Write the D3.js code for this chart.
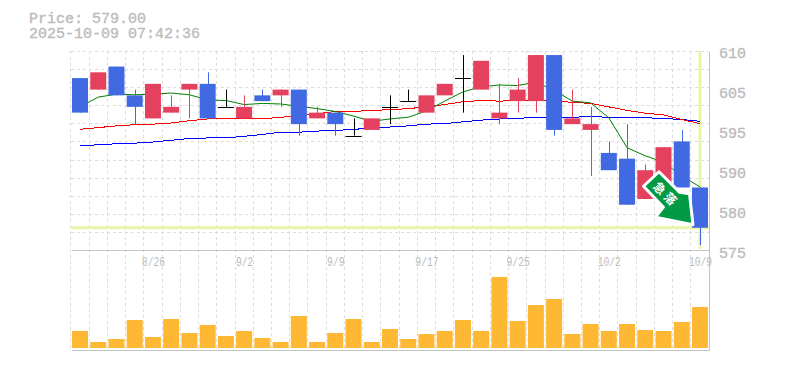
<!DOCTYPE html>
<html lang="en">
<head>
<meta charset="utf-8" />
<title>Price chart</title>
<script src="https://cdn.jsdelivr.net/npm/d3@7"></script>
<style>
  html, body { margin: 0; padding: 0; background: #fff; overflow: hidden; }
  svg { display: block; }
  text { font-family: "Liberation Mono", monospace; fill: #bbb; }
  .info, .price-axis text { font-size: 15px; stroke: #bbb; stroke-width: 0.35px; }
  .date-axis text { font-size: 13px; }
  .grid line { stroke: #dcdcdc; stroke-dasharray: 3 3; shape-rendering: crispEdges; }
  .frame { stroke: #c4c4c4; shape-rendering: crispEdges; }
  .ma { fill: none; }
</style>
</head>
<body>
<div id="chart"></div>
<script>
const dates = ['8/20','8/21','8/22','8/25','8/26','8/27','8/28','8/29','9/1','9/2','9/3','9/4','9/5','9/8','9/9','9/10','9/11','9/12','9/16','9/17','9/18','9/19','9/22','9/24','9/25','9/26','9/29','9/30','10/1','10/2','10/3','10/6','10/7','10/8','10/9'];
const opens  = [605,603,607,602,598,599,603,604,600,598,602,602,603,598,599,595,596,600,601,599,602,605,603,598,601,601,609,597,596,592,591,584,584,594,586];
const closes = [599,606,602,600,604,600,604,598,600,600,601,603,597,599,597,595,598,600,601,602,604,605,608,599,603,609,596,598,597,589,583,589,593,586,579];
const highs  = [605,606,607,603,604,602,604,606,603,602,603,603,603,600,599,598,598,602,603,602,604,609,608,604,605,609,609,603,600,594,597,590,593,596,586];
const lows   = [599,603,602,597,598,599,598,598,600,598,601,600,595,598,595,595,596,597,601,599,602,599,603,597,599,599,595,597,588,589,583,584,584,586,576];
const volume = [17,6,9,28,11,29,15,23,12,17,10,6,32,6,15,29,6,19,9,14,17,28,17,71,27,43,49,14,24,17,24,18,17,26,41];
const maShort = [600.0,601.7,602.2,602.1,602.2,602.4,602.1,601.2,601.1,600.4,600.6,600.5,600.1,599.7,599.2,598.4,597.5,597.9,598.2,599.3,601.0,602.6,603.5,603.8,603.7,604.3,602.9,601.0,600.7,598.1,592.9,591.5,590.4,588.0,586.1];
const maMid   = [596.1,596.4,596.7,596.9,597.0,597.2,597.6,597.9,597.9,597.9,597.9,598.2,598.4,598.8,599.2,599.2,599.4,599.5,599.7,600.0,600.4,600.9,601.1,601.0,601.1,601.1,601.0,600.8,600.6,600.0,599.4,598.9,598.6,597.8,597.1];
const maLong  = [593.3,593.4,593.6,593.7,593.9,594.2,594.5,594.6,594.6,594.9,595.2,595.6,595.6,595.8,595.9,596.1,596.3,596.5,596.7,597.0,597.1,597.4,597.7,597.9,598.0,598.2,598.2,598.2,598.3,598.2,598.2,598.1,598.0,597.8,597.5];
const priceLabels = ['610','605','595','590','580','575'];
const lastPrice = 579;
const infoLines = ['Price: 579.00', '2025-10-09 07:42:36'];
const dateTicks = dates.filter((d, i) => i % 5 === 4);

const UP = '#e4415f', DOWN = '#4169e1', FLAT = '#000', VOL = '#ffb833', MARK = '#e6f5a8';
const left = 70.9, right = 709.1, plotTop = 51, mid = 250, bottom = 350, volBase = 348;

const svg = d3.select('#chart').append('svg').attr('width', 785).attr('height', 370);

const x = d3.scaleBand().domain(d3.range(dates.length)).range([left, right]).paddingInner(0.1226).paddingOuter(0.0613);
const cx = i => x(i) + x.bandwidth() / 2;
const y = d3.scaleLinear().domain([575, 610]).range([250.8, 49.3]);
const yVol = d3.scaleLinear().domain([0, 100]).range([volBase, volBase - 100]);
const gridRows = d3.scaleLinear().domain([0, 11]).range([mid, plotTop]);
const px = v => Math.round(v) + 0.5;
const colorOf = i => closes[i] > opens[i] ? UP : closes[i] < opens[i] ? DOWN : FLAT;
const isFlat = i => closes[i] === opens[i];

// dashed grid
const grid = svg.append('g').attr('class', 'grid');
grid.selectAll('line.h').data(d3.range(1, 12)).join('line').attr('class', 'h')
  .attr('x1', left).attr('x2', right)
  .attr('y1', d => px(gridRows(d))).attr('y2', d => px(gridRows(d)));
grid.selectAll('line.v').data(d3.range(dates.length)).join('line').attr('class', 'v')
  .attr('x1', d => px(x(d) - 1.6)).attr('x2', d => px(x(d) - 1.6))
  .attr('y1', plotTop).attr('y2', bottom);

// panel frame
[[left, right, mid, mid], [left, right, bottom, bottom], [right, right, plotTop, bottom]].forEach(([a, b, c, d]) => {
  svg.append('line').attr('class', 'frame').attr('x1', px(a)).attr('x2', px(b)).attr('y1', px(c)).attr('y2', px(d));
});

// current price / last session markers
svg.append('line').attr('stroke', MARK).attr('stroke-width', 3)
  .attr('x1', left).attr('x2', right).attr('y1', y(lastPrice)).attr('y2', y(lastPrice));
svg.append('line').attr('stroke', MARK).attr('stroke-width', 3)
  .attr('x1', cx(34)).attr('x2', cx(34)).attr('y1', plotTop).attr('y2', mid - 1);

// moving averages sit under the candles
const line = d3.line().x((d, i) => cx(i)).y(d => y(d));
[[maLong, '#0000ff', 'crispEdges'], [maMid, '#ff0000', 'crispEdges'], [maShort, '#008000', 'auto']].forEach(([vals, col, mode]) => {
  svg.append('path').attr('class', 'ma').attr('stroke', col).attr('stroke-width', 1).attr('shape-rendering', mode).attr('d', line(vals));
});

// candles
const candles = svg.append('g').selectAll('g').data(d3.range(dates.length)).join('g');
candles.append('line')
  .attr('x1', d => px(cx(d))).attr('x2', d => px(cx(d)))
  .attr('y1', d => y(highs[d])).attr('y2', d => y(lows[d]))
  .attr('stroke', colorOf)
  .attr('stroke-width', 1);
candles.filter(d => !isFlat(d)).append('rect')
  .attr('x', d => x(d)).attr('width', x.bandwidth())
  .attr('y', d => y(Math.max(opens[d], closes[d])))
  .attr('height', d => Math.abs(y(opens[d]) - y(closes[d])))
  .attr('fill', colorOf);
candles.filter(isFlat).append('line')
  .attr('x1', d => x(d)).attr('x2', d => x(d) + x.bandwidth())
  .attr('y1', d => px(y(closes[d]))).attr('y2', d => px(y(closes[d])))
  .attr('stroke', FLAT).attr('stroke-width', 1);

// volume bars
svg.append('g').selectAll('rect').data(volume).join('rect')
  .attr('x', (d, i) => x(i)).attr('width', x.bandwidth())
  .attr('y', d => yVol(d)).attr('height', d => yVol(0) - yVol(d))
  .attr('fill', VOL);

// signal arrow, anchored on the last candle
const arrowPts = [[-41, -56], [-56.5, -41.5], [-36.5, -20.6], [-44.5, -10.6], [-7, -3], [-10.5, -34], [-20.5, -35.6]];
const arrow = svg.append('g').attr('transform', `translate(${cx(34)},${y(lastPrice)})`);
arrow.append('polygon').attr('points', arrowPts.join(' '))
  .attr('fill', '#009944').attr('stroke', '#fff').attr('stroke-width', 3).attr('stroke-linejoin', 'round');
arrow.append('text').attr('transform', 'translate(-34,-33) rotate(45)')
  .attr('text-anchor', 'middle').attr('dy', '0.36em')
  .style('font-family', '"Noto Sans CJK JP"').style('font-weight', 700).style('font-size', '12px')
  .style('letter-spacing', '3px').style('fill', '#fff')
  .text('急落');

// axes
const xAxis = d3.axisBottom(d3.scalePoint().domain(dates).range([cx(0), cx(34)])).tickValues(dateTicks).tickSize(0).tickPadding(0);
svg.append('g').attr('class', 'date-axis').attr('transform', 'translate(0,257)').call(xAxis)
  .call(g => g.select('.domain').remove())
  .call(g => g.selectAll('text').attr('textLength', d => d.length * 5.8).attr('lengthAdjust', 'spacingAndGlyphs')
    .attr('y', 0).attr('dy', '0.71em'))
  .call(g => g.attr('font-family', null).attr('font-size', null));

const yAxis = d3.axisRight(d3.scalePoint().domain(priceLabels).range([53, 253])).tickSize(0).tickPadding(0);
svg.append('g').attr('class', 'price-axis').attr('transform', 'translate(719,0)').call(yAxis)
  .call(g => g.select('.domain').remove())
  .call(g => g.attr('font-family', null).attr('font-size', null));

svg.append('g').selectAll('text').data(infoLines).join('text').attr('class', 'info')
  .attr('x', 29).attr('y', (d, i) => 23 + i * 15).text(d => d);
</script>
</body>
</html>
